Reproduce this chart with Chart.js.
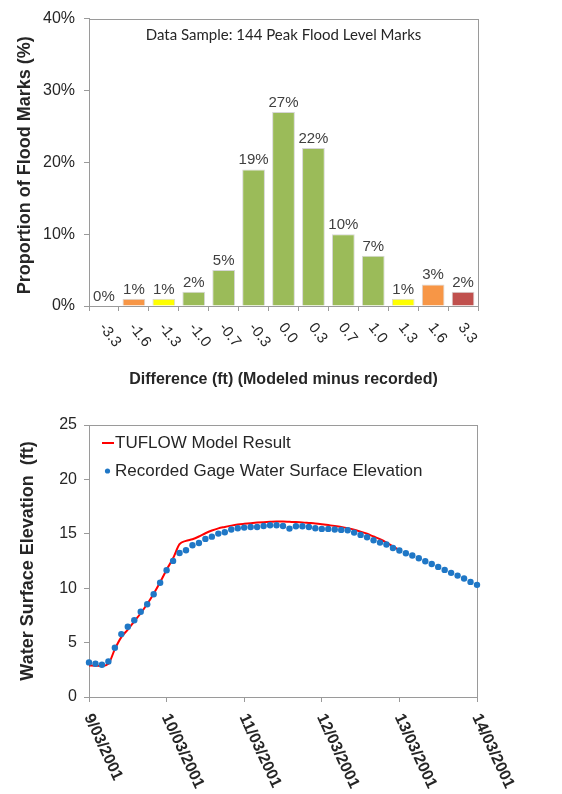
<!DOCTYPE html>
<html>
<head>
<meta charset="utf-8">
<script src="https://cdn.jsdelivr.net/npm/chart.js@4.4.0/dist/chart.umd.min.js"></script>
<style>
  html, body { margin: 0; padding: 0; background: #fff; }
  #wrap { position: relative; width: 562px; height: 794px; }
  canvas { position: absolute; left: 0; }
  #chart-hist { top: 0; }
  #chart-stage { top: 395px; }
</style>
</head>
<body>
<div id="wrap">
  <canvas id="chart-hist" width="562" height="395"></canvas>
  <canvas id="chart-stage" width="562" height="399"></canvas>
</div>
<script>
/* ── DATA ──────────────────────────────── */
const DIFF_BINS   = ['-3.3','-1.6','-1.3','-1.0','-0.7','-0.3','0.0','0.3','0.7','1.0','1.3','1.6','3.3'];
const MARK_SHARE  = [0, 1, 1, 2, 5, 19, 27, 22, 10, 7, 1, 3, 2];
const SHARE_TICKS = [0, 10, 20, 30, 40];

const DAY_LABELS  = ['9/03/2001','10/03/2001','11/03/2001','12/03/2001','13/03/2001','14/03/2001'];
const HOURS_PER_READING = 2;
const GAGE_WSE = [
  3.18, 3.06, 2.97, 3.27, 4.53, 5.78, 6.45, 7.06, 7.83, 8.53,
  9.45, 10.50, 11.65, 12.51, 13.24, 13.49, 13.95, 14.16, 14.53, 14.74,
  15.02, 15.14, 15.39, 15.51, 15.57, 15.63, 15.63, 15.72, 15.79, 15.79,
  15.72, 15.48, 15.69, 15.69, 15.63, 15.51, 15.45, 15.45, 15.39, 15.36,
  15.33, 15.11, 14.90, 14.68, 14.41, 14.19, 14.01, 13.70, 13.46, 13.21,
  13.00, 12.75, 12.48, 12.23, 11.96, 11.68, 11.41, 11.16, 10.89, 10.58,
  10.31
];
const MODEL_WSE = [
  2.90, 2.88, 2.85, 3.05, 4.40, 5.50, 6.20, 6.95, 7.70, 8.55,
  9.50, 10.55, 11.70, 12.75, 14.05, 14.35, 14.50, 14.75, 15.05, 15.30,
  15.50, 15.63, 15.75, 15.85, 15.92, 15.98, 16.03, 16.07, 16.10, 16.12,
  16.12, 16.10, 16.08, 16.05, 16.00, 15.95, 15.88, 15.80, 15.72, 15.63,
  15.52, 15.38, 15.20, 15.00, 14.75, 14.50, 14.20, 13.85, 13.50
];
const WSE_TICKS = [0, 5, 10, 15, 20, 25];

/* ── STYLE ─────────────────────────────── */
const SANS   = '"Liberation Sans", Arial, sans-serif';
const AXIS   = '#9A9A9A';
const INK    = '#262626';
const GREEN  = '#9BBB59', ORANGE = '#F79646', YELLOW = '#FFFF00', RED = '#C0504D';
const BIN_COLORS = [RED, ORANGE, YELLOW, GREEN, GREEN, GREEN, GREEN, GREEN, GREEN, GREEN, YELLOW, ORANGE, RED];
const MODEL_RED = '#FF0000';
const GAGE_BLUE = '#1F77C6';

const toPoints = vals => vals.map((v, i) => ({ x: i * HOURS_PER_READING / 24, y: v }));

/* ── SHARED PLUGINS ────────────────────── */
const plotFrame = {
  id: 'plotFrame',
  beforeDatasetsDraw(chart) {
    const { ctx, chartArea: a } = chart;
    ctx.save();
    ctx.strokeStyle = AXIS;
    ctx.lineWidth = 1;
    ctx.strokeRect(Math.round(a.left) + 0.5, Math.round(a.top) + 0.5,
                   Math.round(a.width), Math.round(a.height));
    ctx.restore();
  }
};

// clockwise-rotated category labels, anchored under each tick
function rotatedTicks(labels, posFor, angle, font, dx, dy) {
  return {
    id: 'rotatedTicks',
    afterDraw(chart) {
      const { ctx } = chart;
      const sx = chart.scales.x;
      ctx.save();
      ctx.font = font;
      ctx.fillStyle = INK;
      ctx.textAlign = 'left';
      ctx.textBaseline = 'middle';
      labels.forEach((lab, i) => {
        ctx.save();
        ctx.translate(sx.getPixelForValue(posFor(i)) + dx, sx.top + dy);
        ctx.rotate(angle * Math.PI / 180);
        ctx.fillText(lab, 0, 0);
        ctx.restore();
      });
      ctx.restore();
    }
  };
}

function yTitle(text, x, shift) {
  return {
    id: 'yTitle',
    afterDraw(chart) {
      const { ctx, chartArea: a } = chart;
      ctx.save();
      ctx.font = 'bold 18px ' + SANS;
      ctx.fillStyle = INK;
      ctx.textAlign = 'center';
      ctx.textBaseline = 'middle';
      ctx.translate(x, (a.top + a.bottom) / 2 + shift);
      ctx.rotate(-Math.PI / 2);
      ctx.fillText(text, 0, 0);
      ctx.restore();
    }
  };
}

/* ── CHART 1: HISTOGRAM ────────────────── */
const histText = {
  id: 'histText',
  afterDraw(chart) {
    const { ctx, chartArea: a } = chart;
    ctx.save();
    ctx.fillStyle = INK;
    ctx.textAlign = 'center';

    ctx.font = '15px Lato, "Open Sans", sans-serif';
    ctx.textBaseline = 'middle';
    ctx.fillText('Data Sample: 144 Peak Flood Level Marks', (a.left + a.right) / 2, a.top + 16.5);

    ctx.font = '15px ' + SANS;
    ctx.fillStyle = '#404040';
    ctx.textBaseline = 'alphabetic';
    chart.getDatasetMeta(0).data.forEach((bar, i) => {
      ctx.fillText(MARK_SHARE[i] + '%', bar.x, bar.y - 5);
    });

    ctx.fillStyle = INK;
    ctx.font = 'bold 16px ' + SANS;
    ctx.textBaseline = 'middle';
    ctx.fillText('Difference (ft) (Modeled minus recorded)', (a.left + a.right) / 2, a.bottom + 74);
    ctx.restore();
  }
};

new Chart(document.getElementById('chart-hist'), {
  type: 'bar',
  data: {
    labels: DIFF_BINS,
    datasets: [{
      data: MARK_SHARE,
      backgroundColor: BIN_COLORS,
      borderColor: '#D6D6D6',
      borderWidth: 1,
      categoryPercentage: 1,
      barPercentage: 0.76,
    }]
  },
  options: {
    responsive: false,
    animation: false,
    layout: { padding: { top: 16, right: 84, left: 0, bottom: 0 } },
    plugins: { legend: { display: false }, tooltip: { enabled: false } },
    scales: {
      x: {
        grid: { drawOnChartArea: false, tickLength: 5, color: AXIS, offset: true },
        border: { color: AXIS },
        ticks: { display: false },
        afterFit(s) { s.height = 89; }
      },
      y: {
        min: SHARE_TICKS[0],
        max: SHARE_TICKS[SHARE_TICKS.length - 1],
        ticks: {
          stepSize: SHARE_TICKS[1] - SHARE_TICKS[0],
          callback: v => v + '%',
          font: { family: SANS, size: 16 },
          color: INK,
          padding: 9,
        },
        grid: { drawOnChartArea: false, tickLength: 5, color: AXIS },
        border: { color: AXIS },
        afterFit(s) { s.width = 89; }
      }
    }
  },
  plugins: [
    plotFrame,
    histText,
    rotatedTicks(DIFF_BINS, i => i, 52, '15px ' + SANS, -2, 19),
    yTitle('Proportion of Flood Marks (%)', 25, 3),
  ]
});

/* ── CHART 2: STAGE HYDROGRAPH ─────────── */
const stageLegend = {
  id: 'stageLegend',
  afterDraw(chart) {
    const { ctx, chartArea: a } = chart;
    const [model, gage] = [chart.data.datasets[1], chart.data.datasets[0]];
    ctx.save();
    ctx.font = '17px ' + SANS;
    ctx.fillStyle = INK;
    ctx.textAlign = 'left';
    ctx.textBaseline = 'middle';

    ctx.strokeStyle = model.borderColor;
    ctx.lineWidth = 2;
    ctx.beginPath();
    ctx.moveTo(a.left + 13, a.top + 18);
    ctx.lineTo(a.left + 25, a.top + 18);
    ctx.stroke();
    ctx.fillText(model.label, a.left + 26, a.top + 18);

    ctx.fillStyle = gage.pointBackgroundColor;
    ctx.beginPath();
    ctx.arc(a.left + 18.5, a.top + 46, 2.6, 0, Math.PI * 2);
    ctx.fill();
    ctx.fillStyle = INK;
    ctx.fillText(gage.label, a.left + 26, a.top + 46);
    ctx.restore();
  }
};

new Chart(document.getElementById('chart-stage'), {
  type: 'line',
  data: {
    datasets: [
      {
        label: 'Recorded Gage Water Surface Elevation',
        data: toPoints(GAGE_WSE),
        showLine: false,
        pointRadius: 3.2,
        pointBorderWidth: 0,
        pointBackgroundColor: GAGE_BLUE,
        clip: false,
        order: 0,
      },
      {
        label: 'TUFLOW Model Result',
        data: toPoints(MODEL_WSE),
        borderColor: MODEL_RED,
        borderWidth: 2,
        pointRadius: 0,
        cubicInterpolationMode: 'monotone',
        order: 1,
      }
    ]
  },
  options: {
    responsive: false,
    animation: false,
    layout: { padding: { top: 30, right: 85, left: 0, bottom: 0 } },
    plugins: { legend: { display: false }, tooltip: { enabled: false } },
    scales: {
      x: {
        type: 'linear',
        min: 0,
        max: DAY_LABELS.length - 1,
        ticks: { display: false, stepSize: 1 },
        grid: { drawOnChartArea: false, tickLength: 5, color: AXIS },
        border: { color: AXIS },
        afterFit(s) { s.height = 97; }
      },
      y: {
        min: WSE_TICKS[0],
        max: WSE_TICKS[WSE_TICKS.length - 1],
        ticks: {
          stepSize: WSE_TICKS[1] - WSE_TICKS[0],
          font: { family: SANS, size: 16 },
          color: INK,
          padding: 7,
        },
        grid: { drawOnChartArea: false, tickLength: 5, color: AXIS },
        border: { color: AXIS },
        afterFit(s) { s.width = 89; }
      }
    }
  },
  plugins: [
    plotFrame,
    stageLegend,
    rotatedTicks(DAY_LABELS, i => i, 65, 'bold 16px ' + SANS, -1, 18),
    yTitle('Water Surface Elevation  (ft)', 28, 0),
  ]
});
</script>
</body>
</html>
